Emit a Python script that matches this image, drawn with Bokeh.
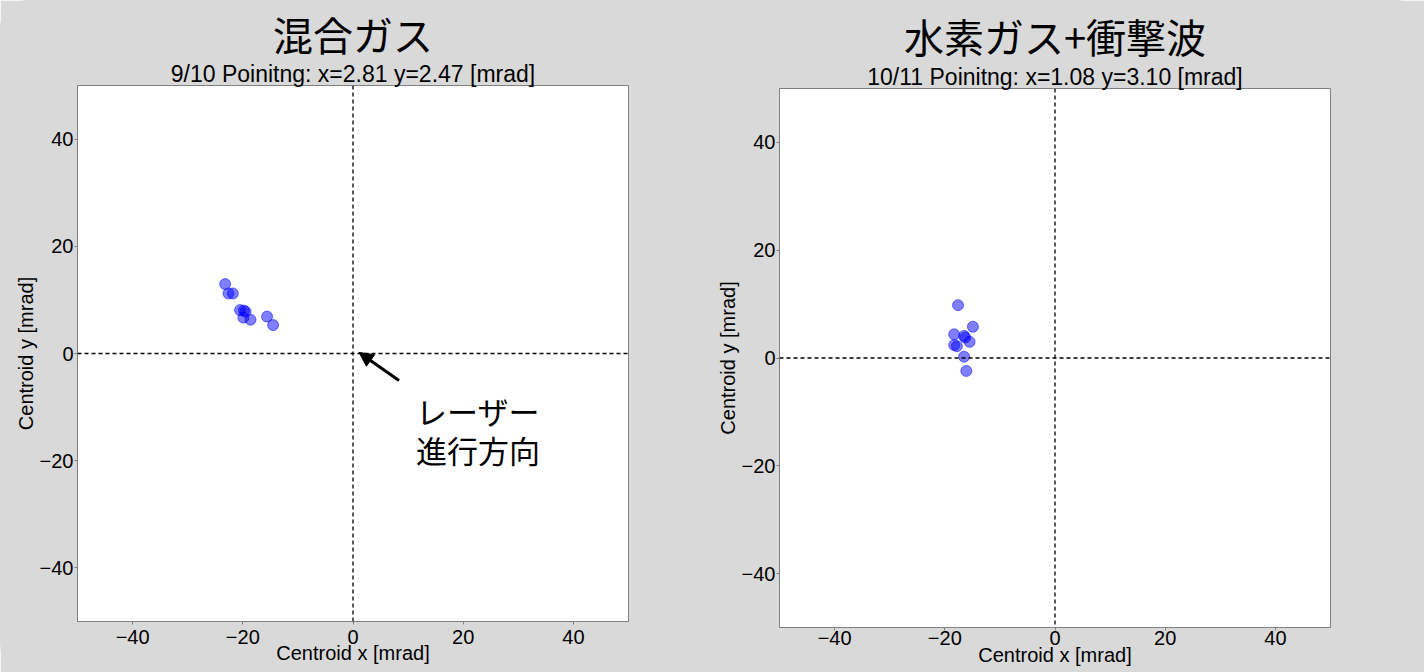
from bokeh.plotting import figure
from bokeh.layouts import row, column
from bokeh.models import Title, Span, Arrow, NormalHead, Label, FixedTicker
from bokeh.embed import file_html
from bokeh.resources import INLINE

# ---- data ----
mix_x = [-23.2, -22.6, -21.8, -20.5, -19.8, -19.5, -19.9, -18.6, -15.6, -14.5]
mix_y = [12.95, 11.2, 11.2, 8.1, 8.0, 7.8, 6.7, 6.3, 6.9, 5.3]
h2_x = [-17.6, -14.9, -18.3, -16.5, -16.3, -15.5, -18.3, -17.8, -16.5, -16.1]
h2_y = [9.8, 5.8, 4.4, 4.1, 3.8, 3.0, 2.4, 2.2, 0.24, -2.4]
ticks = [-40, -20, 0, 20, 40]
tick_labels = {t: (str(t).replace("-", "\u2212")) for t in ticks}
titles = ["混合ガス", "水素ガス+衝撃波"]
subtitles = ["9/10 Poinitng: x=2.81 y=2.47 [mrad]", "10/11 Poinitng: x=1.08 y=3.10 [mrad]"]

GRAY = "#d9d9d9"
LAT = "Liberation Sans"
JP = "Noto Sans CJK JP"


def make(xs, ys, title, subtitle, borders, title_so, xstand):
    left, right, top, bottom = borders
    p = figure(width=712, height=672, output_backend="svg", toolbar_location=None,
               x_range=(-50, 50), y_range=(-50, 50),
               min_border_left=left, min_border_right=right,
               min_border_top=top, min_border_bottom=bottom,
               background_fill_color="white", border_fill_color=GRAY,
               outline_line_color="#808080", outline_line_width=1)
    p.grid.visible = False
    p.title.text = title
    p.title.align = "center"
    p.title.text_font = JP
    p.title.text_font_size = "40px"
    p.title.text_font_style = "normal"
    p.title.text_color = "black"
    p.title.standoff = title_so
    p.add_layout(Title(text=subtitle, align="center", text_font=LAT, text_font_size="23px",
                       text_font_style="normal", text_color="black", standoff=-2), "above")
    for ax in (p.xaxis[0], p.yaxis[0]):
        ax.ticker = FixedTicker(ticks=ticks)
        ax.major_label_overrides = tick_labels
        ax.major_label_text_font = LAT
        ax.major_label_text_font_size = "20px"
        ax.major_label_text_color = "black"
        ax.axis_label_text_font = LAT
        ax.axis_label_text_font_size = "20px"
        ax.axis_label_text_font_style = "normal"
        ax.axis_label_text_color = "black"
        ax.axis_line_color = "#808080"
        ax.major_tick_line_color = "#808080"
        ax.major_tick_out = 3
        ax.major_tick_in = 0
        ax.minor_tick_line_color = None
    p.yaxis.major_label_standoff = 1
    p.yaxis.axis_label_standoff = 0
    tick_so, lab_so = xstand
    p.xaxis.major_label_standoff = tick_so
    p.xaxis.axis_label_standoff = lab_so
    p.xaxis.axis_label = "Centroid x [mrad]"
    p.yaxis.axis_label = "Centroid y [mrad]"
    p.add_layout(Span(location=0, dimension="width", line_color="black", line_dash="4 3", line_width=1.3))
    p.add_layout(Span(location=0, dimension="height", line_color="black", line_dash="4 3", line_width=1.3))
    p.scatter(xs, ys, size=11, fill_color="blue", fill_alpha=0.5, line_color="blue", line_alpha=0.5)
    return p


p1 = make(mix_x, mix_y, titles[0], subtitles[0], (77, 84, 85, 51), -7, (5, -5))
p2 = make(h2_x, h2_y, titles[1], subtitles[1], (67, 94, 88, 45), -4, (0, -4))

# annotation on the left panel
arrow_tail = (8.35, -5.05)
arrow_head = (1.1, 0.2)
p1.add_layout(Arrow(end=NormalHead(size=14, fill_color="black", line_color="black"),
                    x_start=arrow_tail[0], y_start=arrow_tail[1],
                    x_end=arrow_head[0], y_end=arrow_head[1],
                    line_width=3, line_color="black"))
p1.add_layout(Label(x=22.7, y=-10.7, text="レーザー", text_font=JP, text_font_size="31px",
                    text_align="center", text_baseline="middle", text_color="black"))
p1.add_layout(Label(x=22.7, y=-17.9, text="進行方向", text_font=JP, text_font_size="31px",
                    text_align="center", text_baseline="middle", text_color="black"))

layout = row(column(p1), column(p2), styles={"background-color": GRAY, "border-radius": "28px"})
open("out.html", "w").write(file_html(layout, INLINE))
